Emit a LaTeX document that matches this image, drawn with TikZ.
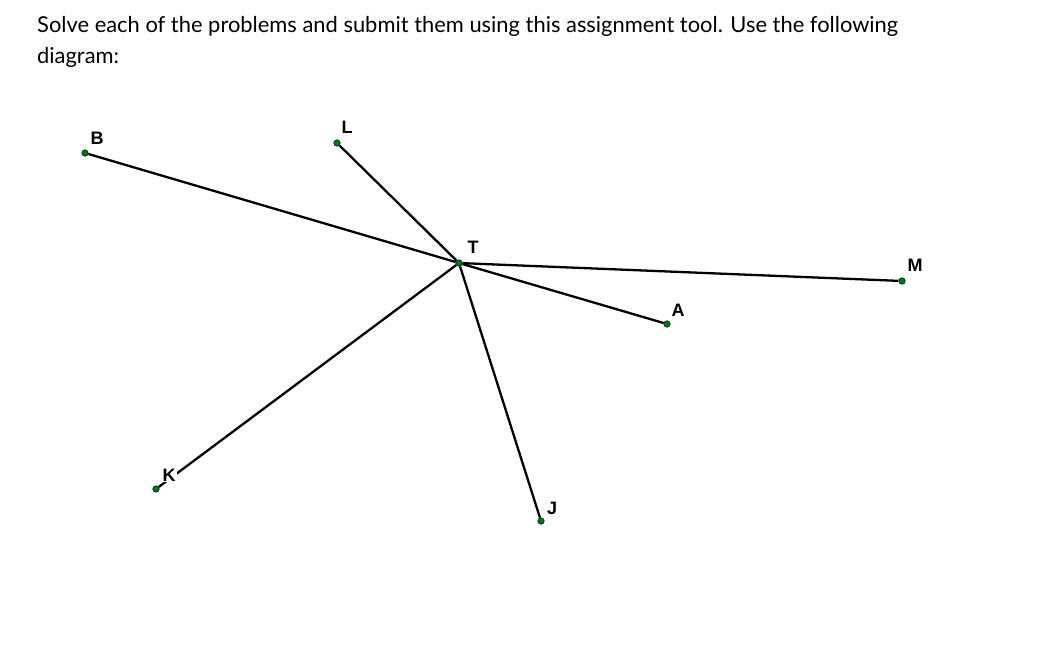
\documentclass[tikz,border=0pt]{standalone}
\usepackage{fontspec}
\setmainfont{Lato}
\newfontfamily\lblfont{Liberation Sans}
\usetikzlibrary{backgrounds}
\definecolor{ptgreen}{RGB}{0,120,20}
\tikzset{
  pt/.style={draw=black!70!ptgreen, circle, fill=ptgreen, inner sep=0pt, minimum size=6.5pt, line width=0.6pt},
  lbl/.style={font=\lblfont\bfseries\fontsize{18}{18}\selectfont, inner sep=1pt},
  seg/.style={line width=2.3pt, black}
}
\begin{document}
\begin{tikzpicture}[x=1pt, y=-1pt]
			\useasboundingbox (0,0) rectangle (1047,657);

			% Text above the diagram
			\node[anchor=base west, inner sep=0pt, font=\fontsize{21.9}{26}\selectfont] (line1) at (37,32) {Solve each of the problems and submit them using this assignment tool. Use the following};
			\node[anchor=base west, inner sep=0pt, font=\fontsize{21.9}{26}\selectfont] (line2) at (37,63) {diagram:};

			% Points
			\node[pt] (T) at (459,263) {};
			\node[pt] (B) at (85,153) {};
			\node[pt] (L) at (337,143) {};
			\node[pt] (M) at (902,281) {};
			\node[pt] (A) at (667,324) {};
			\node[pt] (K) at (156,489) {};
			\node[pt] (J) at (541,521) {};

			% Segments from T
			\begin{scope}[on background layer]
			\draw[seg] (T) -- (B);
			\draw[seg] (T) -- (L);
			\draw[seg] (T) -- (M);
			\draw[seg] (T) -- (A);
			\draw[seg] (T) -- (K);
			\draw[seg] (T) -- (J);
			\end{scope}

			% Labels
			\node[lbl] (lB) at (97,138) {B};
			\node[lbl] (lL) at (347,127) {L};
			\node[lbl] (lT) at (473,247) {T};
			\node[lbl] (lM) at (915,265) {M};
			\node[lbl] (lA) at (678,310) {A};
			\node[lbl, fill=white] (lK) at (169,475) {K};
			\node[lbl] (lJ) at (552,508) {J};
		\end{tikzpicture}
\end{document}
